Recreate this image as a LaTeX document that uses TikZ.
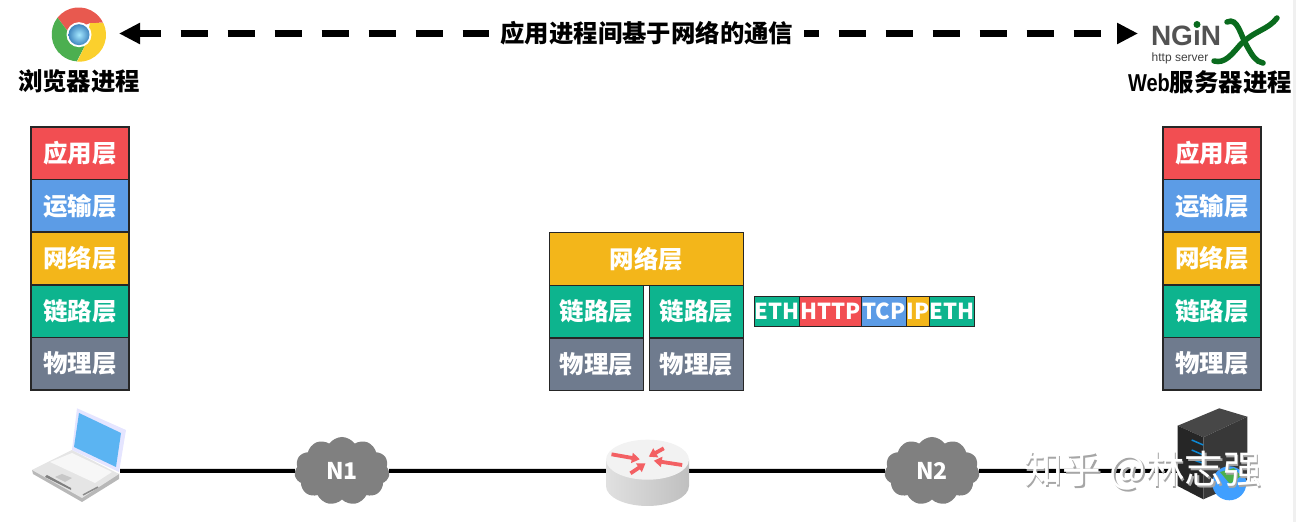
\documentclass[tikz,border=0pt]{standalone}
\usepackage{fontspec}
\setmainfont{Noto Sans CJK SC}
\newfontfamily\logofont{Liberation Sans}
\usetikzlibrary{shapes.symbols, arrows.meta, positioning}
\definecolor{appred}{HTML}{F24E52}
\definecolor{tranblue}{HTML}{5C9CE6}
\definecolor{netyellow}{HTML}{F3B61A}
\definecolor{linkgreen}{HTML}{0DB48E}
\definecolor{phygray}{HTML}{6F7B8E}
\definecolor{cloudgray}{HTML}{808080}
\definecolor{nginxgreen}{HTML}{0A6B1E}
\definecolor{chromered}{HTML}{E8594F}
\definecolor{chromegreen}{HTML}{4CAF50}
\definecolor{chromeyellow}{HTML}{FBD02D}
\definecolor{screenblue}{HTML}{5BB4F2}
\begin{document}
\begin{tikzpicture}[x=1pt, y=1pt,
    layer/.style={draw=black!85, line width=1.5pt, rectangle, minimum width=98pt, minimum height=52.6pt, inner sep=0pt, outer sep=0pt, text=white, font=\fontsize{24.5}{24.5}\selectfont\bfseries},
    midlayer/.style={layer, minimum width=94pt},
    cell/.style={draw=black!85, line width=1.3pt, rectangle, minimum height=30pt, inner sep=0pt, outer sep=0pt, text=white, font=\fontsize{22}{22}\selectfont\bfseries},
    proclabel/.style={inner sep=0pt, font=\fontsize{24.4}{24.4}\selectfont\bfseries},
    netcloud/.style={cloud, cloud puffs=11, cloud puff arc=110, aspect=1.35, fill=cloudgray, minimum width=95pt, minimum height=68pt, inner sep=0pt, text=white, font=\fontsize{23}{23}\selectfont\bfseries},
    icon/.style={minimum height=4pt, inner sep=0pt, outer sep=0pt},
    wire/.style={line width=4pt},
    dasharrow/.style={line width=6.5pt, dash pattern=on 27pt off 20pt, dash phase=5pt, {Triangle[length=21pt,width=20pt]}-{Triangle[length=21pt,width=20pt]}, shorten <=13pt, shorten >=10pt},
    routerarrow/.style={line width=3.8pt, color=appred!90, -{Triangle[length=8pt,width=10pt]}}]
    \useasboundingbox (0,0) rectangle (1296,522);
    \fill[black!6] (1293,0) rectangle (1296,522);

    % Processes
    \node [circle, minimum size=54pt, inner sep=0pt, outer sep=0pt] (chrome) at (79,488.5) {};
    \node [icon, minimum width=132pt] (nginx) at (1214,488.5) {};
    \draw[dasharrow] (chrome) -- node[pos=.519, fill=white, inner xsep=11pt, inner ysep=3pt, font=\fontsize{24.4}{24.4}\selectfont\bfseries] (title) {应用进程间基于网络的通信} (nginx);
    \node [proclabel] (chromelabel) at (79,441) {浏览器进程};
    \node [proclabel] (nginxlabel) at (1210,440) {\scalebox{.82}[1]{\logofont\bfseries Web}服务器进程};

    % Chrome
    \begin{scope}[shift={(chrome)}, yshift=-1.2pt]
        \fill[chromered] (-11,3) -- (-21.5,17) arc (141.7:26:27pt) -- (11,11.6) -- cycle;
        \fill[chromegreen] (-11,3) -- (-21.5,17) arc (141.7:266:27pt) -- (6,-11) -- cycle;
        \fill[chromeyellow] (11,11.6) -- (24.3,11.8) arc (26:-94:27pt) -- (6,-11) -- cycle;
        \fill[white] (0,0) circle (12.5pt);
        \shade[inner color=blue!25!cyan!35!white, outer color=blue!45!cyan!50!gray] (0,0) circle (10.5pt);
    \end{scope}

    % Nginx
    \node [inner sep=0pt, text=black!68, font=\logofont\fontsize{28}{28}\selectfont\bfseries] (nginxname) at (1186,486) {NGıN};
    \node [inner sep=0pt, text=black!75, font=\logofont\fontsize{12}{12}\selectfont] (nginxsub) at (1180,464) {http server};
    \fill[nginxgreen] (1197,497.5) circle (3.5pt);
    \begin{scope}[shift={(nginx)}, line width=5.5pt, line cap=round, nginxgreen]
        \draw (13,11.5) .. controls (24,16.5) and (26,-1.5) .. (34,-14.5) .. controls (38,-21.5) and (42,-28.5) .. (49,-29.5);
        \draw (63,15.5) .. controls (54,3.5) and (41,3.5) .. (26,-11.5) .. controls (18,-20.5) and (11,-30.5) .. (0,-27.5);
    \end{scope}

    % Client stack
    \node [layer, fill=appred] (appL) at (80,368.7) {应用层};
    \node [layer, fill=tranblue, below=0pt of appL] (tranL) {运输层};
    \node [layer, fill=netyellow, below=0pt of tranL] (netL) {网络层};
    \node [layer, fill=linkgreen, below=0pt of netL] (linkL) {链路层};
    \node [layer, fill=phygray, below=0pt of linkL] (phyL) {物理层};

    % Server stack
    \node [layer, fill=appred] (appR) at (1212,368.7) {应用层};
    \node [layer, fill=tranblue, below=0pt of appR] (tranR) {运输层};
    \node [layer, fill=netyellow, below=0pt of tranR] (netR) {网络层};
    \node [layer, fill=linkgreen, below=0pt of netR] (linkR) {链路层};
    \node [layer, fill=phygray, below=0pt of linkR] (phyR) {物理层};

    % Router stack
    \node [layer, fill=netyellow, minimum width=194pt] (netM) at (646.5,263) {网络层};
    \node [midlayer, fill=linkgreen, below right=0pt and 0pt of netM.south west] (linkMA) {链路层};
    \node [midlayer, fill=phygray, below=0pt of linkMA] (phyMA) {物理层};
    \node [midlayer, fill=linkgreen, below left=0pt and 0pt of netM.south east] (linkMB) {链路层};
    \node [midlayer, fill=phygray, below=0pt of linkMB] (phyMB) {物理层};

    % Packet
    \node [cell, fill=linkgreen, minimum width=43pt, right=11pt of linkMB] (ethA) {ETH};
    \node [cell, fill=appred, minimum width=62pt, right=0pt of ethA] (http) {HTTP};
    \node [cell, fill=tranblue, minimum width=45pt, right=0pt of http] (tcp) {TCP};
    \node [cell, fill=netyellow, minimum width=23pt, right=0pt of tcp] (ip) {IP};
    \node [cell, fill=linkgreen, minimum width=45pt, right=0pt of ip] (ethB) {ETH};

    % Network
    \node [icon, minimum width=82pt] (laptop) at (79,51) {};
    \node [netcloud] (nA) at (342,51) {N1};
    \node [icon, minimum width=83pt] (router) at (647.5,51) {};
    \node [netcloud] (nB) at (932,51) {N2};
    \node [icon, minimum width=68pt] (server) at (1212,51) {};
    \draw[wire] (laptop) -- (nA);
    \draw[wire] (nA) -- (router);
    \draw[wire] (router) -- (nB);
    \draw[wire] (nB) -- (server);

    % Laptop
    \begin{scope}[shift={(laptop)}, y=-1pt]
        \fill[black!28] (-47,-1) -- (-46,3) -- (3,31) -- (40,8) -- (40,3) -- cycle;
        \fill[black!10] (-47,-1) -- (-7,-21) -- (40,3) -- (3,27) -- cycle;
        \fill[blue!10!white] (-2,-62.7) -- (47,-41) -- (40,1) -- (-7,-21) -- cycle;
        \fill[screenblue] (0,-58) -- (42,-38) -- (37,-4) -- (-5,-24) -- cycle;
        \fill[black!3] (-29,-9) -- (-7,-18) -- (33,1) -- (16,12) -- cycle;
        \fill[black!22] (-24,6) -- (-17,3) -- (-7,7) -- (-14,11) -- cycle;
        \fill[black!50] (-34,6) -- (-32,4) -- (-8,17) -- (-8,19) -- cycle;
        \draw[black!45, line width=1.5pt] (4,24) -- (19,16);
    \end{scope}

    % Router
    \begin{scope}[shift={(router)}]
        \shade[left color=black!12, right color=black!25] (-41.5,11.3) -- (-41.5,-15) arc (180:360:41.5pt and 20pt) -- (41.5,11.3) -- cycle;
        \fill[black!5] (0,11.3) ellipse (41.5pt and 20pt);
        \draw[routerarrow] (-36,16.7) -- (-7.7,11.7);
        \draw[routerarrow] (34.7,6) -- (6.3,10.3);
        \draw[routerarrow] (16.3,22.7) -- (1.3,14.3);
        \draw[routerarrow] (-17,-2.3) -- (-2,7.7);
    \end{scope}

    % Server
    \begin{scope}[shift={(server)}, y=-1pt]
        \fill[black!72] (7.3,-62.7) -- (-34.3,-45.3) -- (-8.7,-33.7) -- (35.3,-54.3) -- cycle;
        \fill[black!85] (-34.3,-45.3) -- (-8.7,-33.7) -- (-8.7,28.3) -- (-34.3,15) -- cycle;
        \fill[black!78] (-8.7,-33.7) -- (35.3,-54.3) -- (35.3,9) -- (-8.7,28.3) -- cycle;
        \draw[cyan!70!blue, line width=1.5pt] (-20.3,-31) -- (-8.7,-26);
        \draw[cyan!70!blue, line width=1.5pt] (-20.3,-21) -- (-8.7,-16);
        \draw[cyan!70!blue, line width=1.5pt] (-20.3,-11.7) -- (-8.7,-7.7);
        \fill[blue!50!cyan!75!white] (17.3,12.3) circle (17pt);
        \fill[green!55!black!70] (8,1) -- (22,-3) -- (29,5) -- (18,13) -- cycle;
    \end{scope}

    % Mark
    \node [text=black!35, font=\fontsize{38.5}{38.5}\selectfont] (markshadow) at (1144.5,49.5) {知乎 @林志强};
    \node [text=white, font=\fontsize{38.5}{38.5}\selectfont] (mark) at (1143,51) {知乎 @林志强};
\end{tikzpicture}
\end{document}
